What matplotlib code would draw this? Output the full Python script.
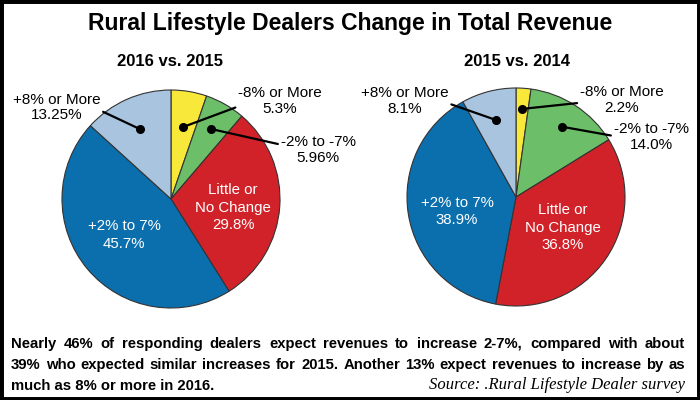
import numpy as np
import matplotlib
matplotlib.use("Agg")
import matplotlib.pyplot as plt
from matplotlib.patches import Rectangle

# ---- data ----
categories = ["-8% or More", "-2% to -7%", "Little or\nNo Change", "+2% to 7%", "+8% or More"]
values_2016 = [5.3, 5.96, 29.8, 45.7, 13.25]
values_2015 = [2.2, 14.0, 36.8, 38.9, 8.1]
labels_2016 = ["5.3%", "5.96%", "29.8%", "45.7%", "13.25%"]
labels_2015 = ["2.2%", "14.0%", "36.8%", "38.9%", "8.1%"]
subtitles = ["2016 vs. 2015", "2015 vs. 2014"]
title = "Rural Lifestyle Dealers Change in Total Revenue"
caption_lines = [
    "Nearly 46% of responding dealers expect revenues to increase 2-7%, compared with about",
    "39% who expected similar increases for 2015. Another 13% expect revenues to increase by as",
    "much as 8% or more in 2016.",
]
source = "Source: .Rural Lifestyle Dealer survey"

colors = ["#f7e83a", "#6cbf68", "#d12229", "#0b6fae", "#a9c4df"]

sans = "Liberation Sans"
serif = "Liberation Serif"

W, H = 700, 400
fig = plt.figure(figsize=(7, 4), dpi=100)
fig.patch.set_facecolor("white")


def fx(px):
    return px / W


def fy(py):
    return 1 - py / H


R = 109
centers = [(171, 199), (516, 197)]
# label layout (positions relative to pie radius)
outer_pos = [
    {0: (1.00, 0.90), 1: (1.35, 0.45), 4: (-1.05, 0.84)},
    {0: (0.97, 0.89), 1: (1.24, 0.55), 4: (-1.02, 0.88)},
]
outer_rel = [
    {0: (0.18, 0.5), 1: (0.0, 0.68), 4: (0.94, 0.48)},
    {0: (0.15, 0.45), 1: (0.08, 0.5), 4: (1.0, 0.42)},
]
dot_r = [
    {0: 0.67, 1: 0.74, 4: 0.70},
    {0: 0.81, 1: 0.77, 4: 0.73},
]
inner_pos = [{2: (0.57, -0.08), 3: (-0.43, -0.33)},
             {2: (0.43, -0.28), 3: (-0.54, -0.13)}]

for i, (vals, labs) in enumerate([(values_2016, labels_2016), (values_2015, labels_2015)]):
    cx, cy = centers[i]
    ax = fig.add_axes([fx(cx - R), fy(cy + R), 2 * R / W, 2 * R / H])
    wedges, _ = ax.pie(vals, colors=colors, startangle=90, counterclock=False,
                       radius=1.0, wedgeprops=dict(edgecolor="#333333", linewidth=0.8))
    ax.set_xlim(-1, 1)
    ax.set_ylim(-1, 1)
    ax.set_aspect("equal")
    ax.axis("off")
    for k, w in enumerate(wedges):
        mid = np.deg2rad((w.theta1 + w.theta2) / 2)
        if k in inner_pos[i]:
            tx, ty = inner_pos[i][k]
            ax.text(tx, ty, f"{categories[k]}\n{labs[k]}",
                    ha="center", va="center", color="white", fontsize=10.8,
                    family=sans, linespacing=1.3)
        else:
            r = dot_r[i][k]
            px, py = r * np.cos(mid), r * np.sin(mid)
            ax.plot(px, py, "o", color="black", markersize=5.5, zorder=5)
            tx, ty = outer_pos[i][k]
            ax.annotate(f"{categories[k]}\n{labs[k]}", xy=(px, py), xytext=(tx, ty),
                        ha="center", va="center", fontsize=11, family=sans,
                        linespacing=1.15, annotation_clip=False,
                        arrowprops=dict(arrowstyle="-", color="black", lw=1.6,
                                        shrinkA=0, shrinkB=0,
                                        relpos=outer_rel[i][k]))

fig.text(0.5, fy(30), title, ha="center", va="baseline", fontsize=16.5,
         fontweight="bold", family=sans)
fig.text(fx(170), fy(66), subtitles[0], ha="center", va="baseline", fontsize=12,
         fontweight="bold", family=sans)
fig.text(fx(517), fy(66), subtitles[1], ha="center", va="baseline", fontsize=12,
         fontweight="bold", family=sans)

# ---- justified caption ----
renderer = fig.canvas.get_renderer()
x_left, x_right = 11, 685
baselines = [348, 369, 390]
base_fs = 11.0
probe = fig.text(0, 0, caption_lines[1], fontsize=base_fs, fontweight="bold", family=sans)
natural = probe.get_window_extent(renderer).width
probe.remove()
cap_fs = base_fs * (x_right - x_left) * 0.985 / natural

for li, line in enumerate(caption_lines):
    if li == len(caption_lines) - 1:
        fig.text(fx(x_left), fy(baselines[li]), line, ha="left", va="baseline",
                 fontsize=cap_fs, fontweight="bold", family=sans)
        continue
    words = line.split(" ")
    texts = [fig.text(0, fy(baselines[li]), wd, ha="left", va="baseline",
                      fontsize=cap_fs, fontweight="bold", family=sans) for wd in words]
    widths = [t.get_window_extent(renderer).width for t in texts]
    gap = ((x_right - x_left) - sum(widths)) / (len(words) - 1)
    x = x_left
    for t, wdt in zip(texts, widths):
        t.set_x(fx(x))
        x += wdt + gap

fig.text(fx(685), fy(389), source, ha="right", va="baseline", fontsize=12,
         style="italic", family=serif)

fig.add_artist(Rectangle((0, 0), 1, 1, transform=fig.transFigure, fill=False,
                         edgecolor="black", linewidth=5, clip_on=False))

fig.savefig("out.png", dpi=100, facecolor="white")
